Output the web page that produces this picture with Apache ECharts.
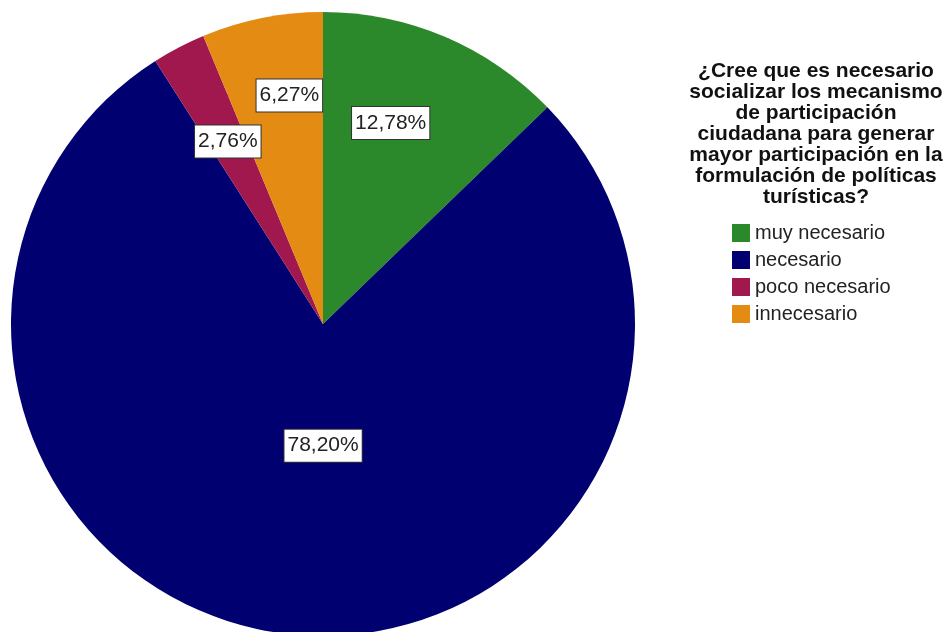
<!DOCTYPE html>
<html lang="es">
<head>
  <meta charset="UTF-8">
  <title>Pie</title>
  <script src="https://cdn.jsdelivr.net/npm/echarts@6/dist/echarts.min.js"></script>
  <style>
    html, body { margin: 0; padding: 0; background: #fff; }
    #chart { width: 947px; height: 632px; }
  </style>
</head>
<body>
<div id="chart"></div>
<script>
  var categories = ['muy necesario', 'necesario', 'poco necesario', 'innecesario']
  var percents = [12.78, 78.20, 2.76, 6.27]
  var colors = ['#2b882b', '#000070', '#a1184f', '#e38b12']
  var titleLines = [
    '¿Cree que es necesario',
    'socializar los mecanismo',
    'de participación',
    'ciudadana para generar',
    'mayor participación en la',
    'formulación de políticas',
    'turísticas?'
  ]
  // label placement: fraction of radius, and a small turn (degrees) off the slice middle
  var labelRadius = [0.68, 0.39, 0.66, 0.74]
  var labelTurn = [-4.4, -6.8, 0, 2.9]

  var center = [323, 324]
  var radius = 312

  var total = percents.reduce(function (a, b) { return a + b }, 0)
  var midAngles = []
  var acc = 0
  percents.forEach(function (v) {
    midAngles.push((acc + v / 2) / total * 2 * Math.PI)
    acc += v
  })

  var chart = echarts.init(document.getElementById('chart'), null, { renderer: 'canvas' })

  var option = {
    animation: false,
    color: colors,
    title: {
      text: titleLines.join('\n'),
      left: 816,
      top: 61,
      padding: 0,
      textAlign: 'center',
      textStyle: {
        fontFamily: 'Liberation Sans',
        fontWeight: 'bold',
        fontSize: 21,
        lineHeight: 21,
        color: '#111'
      }
    },
    legend: {
      orient: 'vertical',
      left: 732,
      top: 223,
      padding: 0,
      icon: 'rect',
      itemWidth: 18,
      itemHeight: 18,
      itemGap: 7,
      data: categories,
      textStyle: {
        fontFamily: 'Liberation Sans',
        fontSize: 20,
        color: '#222'
      }
    },
    series: [{
      type: 'pie',
      center: center,
      radius: radius,
      startAngle: 90,
      clockwise: true,
      avoidLabelOverlap: false,
      itemStyle: { borderWidth: 0 },
      emphasis: { disabled: true },
      label: {
        show: true,
        position: 'inside',
        formatter: function (p) {
          return p.value.toFixed(2).replace('.', ',') + '%'
        },
        fontFamily: 'Liberation Sans',
        fontSize: 21,
        lineHeight: 24,
        color: '#222',
        backgroundColor: '#fff',
        borderColor: '#333',
        borderWidth: 1,
        padding: [4, 3]
      },
      labelLayout: function (params) {
        var i = params.dataIndex
        var r = radius * labelRadius[i]
        var a = midAngles[i] + labelTurn[i] * Math.PI / 180
        return {
          x: center[0] + r * Math.sin(a),
          y: center[1] - r * Math.cos(a),
          align: 'center',
          verticalAlign: 'middle'
        }
      },
      data: categories.map(function (c, i) {
        return { name: c, value: percents[i] }
      })
    }]
  }

  chart.setOption(option)
  window.addEventListener('resize', chart.resize)
</script>
</body>
</html>
